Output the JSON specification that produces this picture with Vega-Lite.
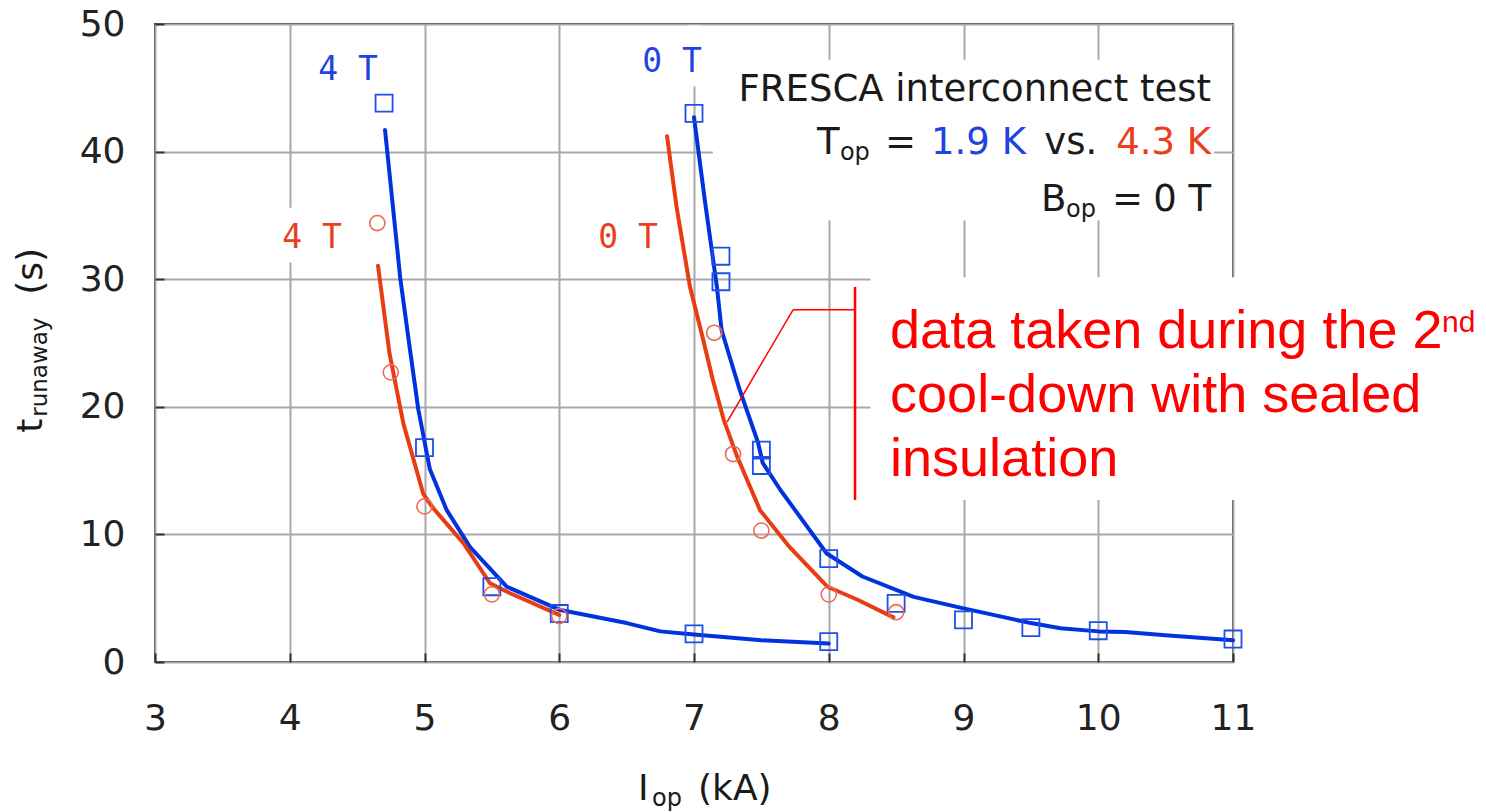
{
"$schema": "https://vega.github.io/schema/vega-lite/v6.json",
"width": 1078, "height": 638,
"autosize": {"type": "none"},
"padding": {"left": 155, "top": 24, "right": 253, "bottom": 150},
"background": "#ffffff",
"config": {
  "view": {"stroke": "#333333", "strokeWidth": 2},
  "axis": {"labelFont": "DejaVu Sans", "labelFontSize": 36, "labelColor": "#222222", "gridColor": "#a8a8a8", "gridWidth": 2, "domain": false, "tickColor": "#333333", "tickWidth": 2, "tickSize": -9, "labelFlush": false, "labelOverlap": false, "format": "d"}
},
"datasets": {
  "points": [
    {"I": 4.7, "t": 43.8, "Top": "1.9 K", "Bop": "4 T"},
    {"I": 5.0, "t": 16.8, "Top": "1.9 K", "Bop": "4 T"},
    {"I": 5.5, "t": 5.9, "Top": "1.9 K", "Bop": "4 T"},
    {"I": 6.0, "t": 3.8, "Top": "1.9 K", "Bop": "4 T"},
    {"I": 7.0, "t": 2.2, "Top": "1.9 K", "Bop": "4 T"},
    {"I": 8.0, "t": 1.6, "Top": "1.9 K", "Bop": "4 T"},
    {"I": 7.0, "t": 43.0, "Top": "1.9 K", "Bop": "0 T"},
    {"I": 7.2, "t": 31.8, "Top": "1.9 K", "Bop": "0 T"},
    {"I": 7.2, "t": 29.8, "Top": "1.9 K", "Bop": "0 T"},
    {"I": 7.5, "t": 16.6, "Top": "1.9 K", "Bop": "0 T"},
    {"I": 7.5, "t": 15.4, "Top": "1.9 K", "Bop": "0 T"},
    {"I": 8.0, "t": 8.1, "Top": "1.9 K", "Bop": "0 T"},
    {"I": 8.5, "t": 4.6, "Top": "1.9 K", "Bop": "0 T"},
    {"I": 9.0, "t": 3.3, "Top": "1.9 K", "Bop": "0 T"},
    {"I": 9.5, "t": 2.7, "Top": "1.9 K", "Bop": "0 T"},
    {"I": 10.0, "t": 2.45, "Top": "1.9 K", "Bop": "0 T"},
    {"I": 11.0, "t": 1.8, "Top": "1.9 K", "Bop": "0 T"},
    {"I": 4.65, "t": 34.4, "Top": "4.3 K", "Bop": "4 T"},
    {"I": 4.75, "t": 22.7, "Top": "4.3 K", "Bop": "4 T"},
    {"I": 5.0, "t": 12.2, "Top": "4.3 K", "Bop": "4 T"},
    {"I": 5.5, "t": 5.3, "Top": "4.3 K", "Bop": "4 T"},
    {"I": 6.0, "t": 3.6, "Top": "4.3 K", "Bop": "4 T"},
    {"I": 7.15, "t": 25.8, "Top": "4.3 K", "Bop": "0 T"},
    {"I": 7.29, "t": 16.3, "Top": "4.3 K", "Bop": "0 T"},
    {"I": 7.5, "t": 10.3, "Top": "4.3 K", "Bop": "0 T"},
    {"I": 8.0, "t": 5.3, "Top": "4.3 K", "Bop": "0 T"},
    {"I": 8.5, "t": 3.9, "Top": "4.3 K", "Bop": "0 T"}
  ],
  "fits": [
    {"I": 4.707, "t": 41.7, "Top": "1.9 K", "Bop": "4 T"},
    {"I": 4.82, "t": 30.1, "Top": "1.9 K", "Bop": "4 T"},
    {"I": 4.892, "t": 24.5, "Top": "1.9 K", "Bop": "4 T"},
    {"I": 4.954, "t": 19.8, "Top": "1.9 K", "Bop": "4 T"},
    {"I": 5.04, "t": 15.1, "Top": "1.9 K", "Bop": "4 T"},
    {"I": 5.165, "t": 11.9, "Top": "1.9 K", "Bop": "4 T"},
    {"I": 5.338, "t": 9.0, "Top": "1.9 K", "Bop": "4 T"},
    {"I": 5.61, "t": 5.9, "Top": "1.9 K", "Bop": "4 T"},
    {"I": 6.0, "t": 4.1, "Top": "1.9 K", "Bop": "4 T"},
    {"I": 6.5, "t": 3.05, "Top": "1.9 K", "Bop": "4 T"},
    {"I": 6.75, "t": 2.4, "Top": "1.9 K", "Bop": "4 T"},
    {"I": 7.0, "t": 2.15, "Top": "1.9 K", "Bop": "4 T"},
    {"I": 7.5, "t": 1.7, "Top": "1.9 K", "Bop": "4 T"},
    {"I": 8.0, "t": 1.45, "Top": "1.9 K", "Bop": "4 T"},
    {"I": 7.0, "t": 42.7, "Top": "1.9 K", "Bop": "0 T"},
    {"I": 7.08, "t": 36.2, "Top": "1.9 K", "Bop": "0 T"},
    {"I": 7.17, "t": 29.4, "Top": "1.9 K", "Bop": "0 T"},
    {"I": 7.205, "t": 26.0, "Top": "1.9 K", "Bop": "0 T"},
    {"I": 7.34, "t": 21.3, "Top": "1.9 K", "Bop": "0 T"},
    {"I": 7.475, "t": 17.2, "Top": "1.9 K", "Bop": "0 T"},
    {"I": 7.51, "t": 15.6, "Top": "1.9 K", "Bop": "0 T"},
    {"I": 7.64, "t": 13.5, "Top": "1.9 K", "Bop": "0 T"},
    {"I": 7.985, "t": 8.5, "Top": "1.9 K", "Bop": "0 T"},
    {"I": 8.25, "t": 6.7, "Top": "1.9 K", "Bop": "0 T"},
    {"I": 8.63, "t": 5.1, "Top": "1.9 K", "Bop": "0 T"},
    {"I": 9.0, "t": 4.2, "Top": "1.9 K", "Bop": "0 T"},
    {"I": 9.5, "t": 3.05, "Top": "1.9 K", "Bop": "0 T"},
    {"I": 9.72, "t": 2.65, "Top": "1.9 K", "Bop": "0 T"},
    {"I": 10.0, "t": 2.4, "Top": "1.9 K", "Bop": "0 T"},
    {"I": 10.2, "t": 2.35, "Top": "1.9 K", "Bop": "0 T"},
    {"I": 10.5, "t": 2.1, "Top": "1.9 K", "Bop": "0 T"},
    {"I": 11.0, "t": 1.7, "Top": "1.9 K", "Bop": "0 T"},
    {"I": 4.655, "t": 31.05, "Top": "4.3 K", "Bop": "4 T"},
    {"I": 4.74, "t": 24.2, "Top": "4.3 K", "Bop": "4 T"},
    {"I": 4.843, "t": 18.7, "Top": "4.3 K", "Bop": "4 T"},
    {"I": 4.99, "t": 13.2, "Top": "4.3 K", "Bop": "4 T"},
    {"I": 5.065, "t": 12.05, "Top": "4.3 K", "Bop": "4 T"},
    {"I": 5.29, "t": 9.3, "Top": "4.3 K", "Bop": "4 T"},
    {"I": 5.486, "t": 6.17, "Top": "4.3 K", "Bop": "4 T"},
    {"I": 5.635, "t": 5.39, "Top": "4.3 K", "Bop": "4 T"},
    {"I": 6.0, "t": 3.69, "Top": "4.3 K", "Bop": "4 T"},
    {"I": 6.8, "t": 41.2, "Top": "4.3 K", "Bop": "0 T"},
    {"I": 6.87, "t": 35.7, "Top": "4.3 K", "Bop": "0 T"},
    {"I": 6.97, "t": 29.4, "Top": "4.3 K", "Bop": "0 T"},
    {"I": 7.06, "t": 25.6, "Top": "4.3 K", "Bop": "0 T"},
    {"I": 7.14, "t": 22.1, "Top": "4.3 K", "Bop": "0 T"},
    {"I": 7.22, "t": 19.0, "Top": "4.3 K", "Bop": "0 T"},
    {"I": 7.32, "t": 16.1, "Top": "4.3 K", "Bop": "0 T"},
    {"I": 7.49, "t": 11.9, "Top": "4.3 K", "Bop": "0 T"},
    {"I": 7.71, "t": 9.0, "Top": "4.3 K", "Bop": "0 T"},
    {"I": 7.99, "t": 5.9, "Top": "4.3 K", "Bop": "0 T"},
    {"I": 8.21, "t": 4.9, "Top": "4.3 K", "Bop": "0 T"},
    {"I": 8.48, "t": 3.5, "Top": "4.3 K", "Bop": "0 T"}
  ]
},
"layer": [
  {"data": {"name": "fits"}, "transform": [{"filter": "datum.Top === '1.9 K'"}],
   "mark": {"type": "line", "color": "#0033dd", "strokeWidth": 4, "opacity": 0},
   "encoding": {
     "x": {"field": "I", "type": "quantitative", "scale": {"domain": [3, 11], "nice": false}, "axis": {"values": [3,4,5,6,7,8,9,10,11], "title": null, "labelPadding": 48}},
     "y": {"field": "t", "type": "quantitative", "scale": {"domain": [0, 50], "nice": false}, "axis": {"values": [0,10,20,30,40,50], "title": null, "labelPadding": 39}},
     "detail": {"field": "Bop"}}},
  {"data": {"values": [{}]}, "mark": {"type": "rect", "color": "#ffffff"},
   "encoding": {
     "x": {"datum": 7.14, "type": "quantitative", "scale": {"domain": [3, 11], "nice": false}},
     "x2": {"datum": 10.86},
     "y": {"datum": 47.2, "type": "quantitative", "scale": {"domain": [0, 50], "nice": false}},
     "y2": {"datum": 34.6}}},
  {"data": {"values": [{}]}, "mark": {"type": "rect", "color": "#ffffff"},
   "encoding": {
     "x": {"datum": 8.31, "type": "quantitative", "scale": {"domain": [3, 11], "nice": false}},
     "x2": {"datum": 12.88},
     "y": {"datum": 30.15, "type": "quantitative", "scale": {"domain": [0, 50], "nice": false}},
     "y2": {"datum": 12.7}}},
  {"data": {"values": [{}]}, "mark": {"type": "rect", "color": "#ffffff"},
   "encoding": {
     "x": {"datum": 6.96, "type": "quantitative", "scale": {"domain": [3, 11], "nice": false}},
     "x2": {"datum": 7.04},
     "y": {"datum": 49.9, "type": "quantitative", "scale": {"domain": [0, 50], "nice": false}},
     "y2": {"datum": 45.1}}},
  {"data": {"values": [{}]}, "mark": {"type": "rect", "color": "#ffffff"},
   "encoding": {
     "x": {"datum": 3.96, "type": "quantitative", "scale": {"domain": [3, 11], "nice": false}},
     "x2": {"datum": 4.04},
     "y": {"datum": 35.6, "type": "quantitative", "scale": {"domain": [0, 50], "nice": false}},
     "y2": {"datum": 31.3}}},
  {"data": {"name": "fits"}, "transform": [{"filter": "datum.Top === '1.9 K'"}],
   "mark": {"type": "line", "color": "#0033dd", "strokeWidth": 4, "strokeCap": "round", "strokeJoin": "round"},
   "encoding": {
     "x": {"field": "I", "type": "quantitative", "scale": {"domain": [3, 11], "nice": false}},
     "y": {"field": "t", "type": "quantitative", "scale": {"domain": [0, 50], "nice": false}},
     "detail": {"field": "Bop"}}},
  {"data": {"name": "fits"}, "transform": [{"filter": "datum.Top === '4.3 K'"}],
   "mark": {"type": "line", "color": "#e83c12", "strokeWidth": 4, "strokeCap": "round", "strokeJoin": "round"},
   "encoding": {
     "x": {"field": "I", "type": "quantitative", "scale": {"domain": [3, 11], "nice": false}},
     "y": {"field": "t", "type": "quantitative", "scale": {"domain": [0, 50], "nice": false}},
     "detail": {"field": "Bop"}}},
  {"data": {"name": "points"}, "transform": [{"filter": "datum.Top === '1.9 K'"}],
   "mark": {"type": "point", "shape": "square", "filled": false, "stroke": "#1e4fe6", "strokeWidth": 1.8, "size": 290, "opacity": 1},
   "encoding": {
     "x": {"field": "I", "type": "quantitative", "scale": {"domain": [3, 11], "nice": false}},
     "y": {"field": "t", "type": "quantitative", "scale": {"domain": [0, 50], "nice": false}}}},
  {"data": {"name": "points"}, "transform": [{"filter": "datum.Top === '4.3 K'"}],
   "mark": {"type": "point", "shape": "circle", "filled": false, "stroke": "#ee6a55", "strokeWidth": 1.6, "size": 230, "opacity": 1},
   "encoding": {
     "x": {"field": "I", "type": "quantitative", "scale": {"domain": [3, 11], "nice": false}},
     "y": {"field": "t", "type": "quantitative", "scale": {"domain": [0, 50], "nice": false}}}},
  {"data": {"values": [{}]}, "mark": {"type": "rule", "color": "#ff0000", "strokeWidth": 1.5},
   "encoding": {
     "x": {"datum": 8.195, "type": "quantitative", "scale": {"domain": [3, 11], "nice": false}},
     "x2": {"datum": 7.735},
     "y": {"datum": 27.6, "type": "quantitative", "scale": {"domain": [0, 50], "nice": false}},
     "y2": {"datum": 27.6}}},
  {"data": {"values": [{}]}, "mark": {"type": "rule", "color": "#ff0000", "strokeWidth": 1.5},
   "encoding": {
     "x": {"datum": 7.735, "type": "quantitative", "scale": {"domain": [3, 11], "nice": false}},
     "x2": {"datum": 7.245},
     "y": {"datum": 27.6, "type": "quantitative", "scale": {"domain": [0, 50], "nice": false}},
     "y2": {"datum": 18.8}}},
  {"data": {"values": [{}]}, "mark": {"type": "rule", "color": "#ff0000", "strokeWidth": 2.5},
   "encoding": {
     "x": {"datum": 8.195, "type": "quantitative", "scale": {"domain": [3, 11], "nice": false}},
     "y": {"datum": 29.4, "type": "quantitative", "scale": {"domain": [0, 50], "nice": false}},
     "y2": {"datum": 12.7}}},
  {"data": {"values": [{}]}, "mark": {"type": "text", "text": "data taken during the 2", "align": "left", "baseline": "alphabetic", "font": "Liberation Sans", "fontSize": 54, "color": "#ff0000"},
   "encoding": {
     "x": {"datum": 8.455, "type": "quantitative", "scale": {"domain": [3, 11], "nice": false}},
     "y": {"datum": 24.63, "type": "quantitative", "scale": {"domain": [0, 50], "nice": false}}}},
  {"data": {"values": [{}]}, "mark": {"type": "text", "text": "nd", "align": "left", "baseline": "alphabetic", "font": "Liberation Sans", "fontSize": 30, "color": "#ff0000"},
   "encoding": {
     "x": {"datum": 12.551, "type": "quantitative", "scale": {"domain": [3, 11], "nice": false}},
     "y": {"datum": 25.88, "type": "quantitative", "scale": {"domain": [0, 50], "nice": false}}}},
  {"data": {"values": [{}]}, "mark": {"type": "text", "text": "cool-down with sealed", "align": "left", "baseline": "alphabetic", "font": "Liberation Sans", "fontSize": 54, "color": "#ff0000"},
   "encoding": {
     "x": {"datum": 8.455, "type": "quantitative", "scale": {"domain": [3, 11], "nice": false}},
     "y": {"datum": 19.61, "type": "quantitative", "scale": {"domain": [0, 50], "nice": false}}}},
  {"data": {"values": [{}]}, "mark": {"type": "text", "text": "insulation", "align": "left", "baseline": "alphabetic", "font": "Liberation Sans", "fontSize": 54, "color": "#ff0000"},
   "encoding": {
     "x": {"datum": 8.455, "type": "quantitative", "scale": {"domain": [3, 11], "nice": false}},
     "y": {"datum": 14.59, "type": "quantitative", "scale": {"domain": [0, 50], "nice": false}}}},
  {"data": {"values": [{}]}, "mark": {"type": "text", "text": "FRESCA interconnect test", "align": "right", "baseline": "alphabetic", "font": "DejaVu Sans", "fontSize": 37, "color": "#1a1a1a"},
   "encoding": {
     "x": {"datum": 10.837, "type": "quantitative", "scale": {"domain": [3, 11], "nice": false}},
     "y": {"datum": 43.95, "type": "quantitative", "scale": {"domain": [0, 50], "nice": false}}}},
  {"data": {"values": [{}]}, "mark": {"type": "text", "text": "T", "align": "left", "baseline": "alphabetic", "font": "DejaVu Sans", "fontSize": 37, "color": "#1a1a1a"},
   "encoding": {
     "x": {"datum": 7.913, "type": "quantitative", "scale": {"domain": [3, 11], "nice": false}},
     "y": {"datum": 39.84, "type": "quantitative", "scale": {"domain": [0, 50], "nice": false}}}},
  {"data": {"values": [{}]}, "mark": {"type": "text", "text": "op", "align": "left", "baseline": "alphabetic", "font": "DejaVu Sans", "fontSize": 24, "color": "#1a1a1a"},
   "encoding": {
     "x": {"datum": 8.083, "type": "quantitative", "scale": {"domain": [3, 11], "nice": false}},
     "y": {"datum": 39.37, "type": "quantitative", "scale": {"domain": [0, 50], "nice": false}}}},
  {"data": {"values": [{}]}, "mark": {"type": "text", "text": "=", "align": "left", "baseline": "alphabetic", "font": "DejaVu Sans", "fontSize": 37, "color": "#1a1a1a"},
   "encoding": {
     "x": {"datum": 8.417, "type": "quantitative", "scale": {"domain": [3, 11], "nice": false}},
     "y": {"datum": 39.84, "type": "quantitative", "scale": {"domain": [0, 50], "nice": false}}}},
  {"data": {"values": [{}]}, "mark": {"type": "text", "text": "1.9 K", "align": "left", "baseline": "alphabetic", "font": "DejaVu Sans", "fontSize": 37, "color": "#1f44e0"},
   "encoding": {
     "x": {"datum": 8.759, "type": "quantitative", "scale": {"domain": [3, 11], "nice": false}},
     "y": {"datum": 39.84, "type": "quantitative", "scale": {"domain": [0, 50], "nice": false}}}},
  {"data": {"values": [{}]}, "mark": {"type": "text", "text": "vs.", "align": "left", "baseline": "alphabetic", "font": "DejaVu Sans", "fontSize": 37, "color": "#1a1a1a"},
   "encoding": {
     "x": {"datum": 9.6, "type": "quantitative", "scale": {"domain": [3, 11], "nice": false}},
     "y": {"datum": 39.84, "type": "quantitative", "scale": {"domain": [0, 50], "nice": false}}}},
  {"data": {"values": [{}]}, "mark": {"type": "text", "text": "4.3 K", "align": "right", "baseline": "alphabetic", "font": "DejaVu Sans", "fontSize": 37, "color": "#e8401c"},
   "encoding": {
     "x": {"datum": 10.837, "type": "quantitative", "scale": {"domain": [3, 11], "nice": false}},
     "y": {"datum": 39.84, "type": "quantitative", "scale": {"domain": [0, 50], "nice": false}}}},
  {"data": {"values": [{}]}, "mark": {"type": "text", "text": "B", "align": "left", "baseline": "alphabetic", "font": "DejaVu Sans", "fontSize": 37, "color": "#1a1a1a"},
   "encoding": {
     "x": {"datum": 9.575, "type": "quantitative", "scale": {"domain": [3, 11], "nice": false}},
     "y": {"datum": 35.37, "type": "quantitative", "scale": {"domain": [0, 50], "nice": false}}}},
  {"data": {"values": [{}]}, "mark": {"type": "text", "text": "op", "align": "left", "baseline": "alphabetic", "font": "DejaVu Sans", "fontSize": 24, "color": "#1a1a1a"},
   "encoding": {
     "x": {"datum": 9.761, "type": "quantitative", "scale": {"domain": [3, 11], "nice": false}},
     "y": {"datum": 34.9, "type": "quantitative", "scale": {"domain": [0, 50], "nice": false}}}},
  {"data": {"values": [{}]}, "mark": {"type": "text", "text": "=", "align": "left", "baseline": "alphabetic", "font": "DejaVu Sans", "fontSize": 37, "color": "#1a1a1a"},
   "encoding": {
     "x": {"datum": 10.102, "type": "quantitative", "scale": {"domain": [3, 11], "nice": false}},
     "y": {"datum": 35.37, "type": "quantitative", "scale": {"domain": [0, 50], "nice": false}}}},
  {"data": {"values": [{}]}, "mark": {"type": "text", "text": "0 T", "align": "right", "baseline": "alphabetic", "font": "DejaVu Sans", "fontSize": 37, "color": "#1a1a1a"},
   "encoding": {
     "x": {"datum": 10.837, "type": "quantitative", "scale": {"domain": [3, 11], "nice": false}},
     "y": {"datum": 35.37, "type": "quantitative", "scale": {"domain": [0, 50], "nice": false}}}},
  {"data": {"values": [{}]}, "mark": {"type": "text", "text": "4 T", "align": "center", "baseline": "alphabetic", "font": "DejaVu Sans Mono", "fontSize": 33, "color": "#1f44e0"},
   "encoding": {
     "x": {"datum": 4.432, "type": "quantitative", "scale": {"domain": [3, 11], "nice": false}},
     "y": {"datum": 45.65, "type": "quantitative", "scale": {"domain": [0, 50], "nice": false}}}},
  {"data": {"values": [{}]}, "mark": {"type": "text", "text": "0 T", "align": "center", "baseline": "alphabetic", "font": "DejaVu Sans Mono", "fontSize": 33, "color": "#1f44e0"},
   "encoding": {
     "x": {"datum": 6.837, "type": "quantitative", "scale": {"domain": [3, 11], "nice": false}},
     "y": {"datum": 46.27, "type": "quantitative", "scale": {"domain": [0, 50], "nice": false}}}},
  {"data": {"values": [{}]}, "mark": {"type": "text", "text": "4 T", "align": "center", "baseline": "alphabetic", "font": "DejaVu Sans Mono", "fontSize": 33, "color": "#e8401c"},
   "encoding": {
     "x": {"datum": 4.165, "type": "quantitative", "scale": {"domain": [3, 11], "nice": false}},
     "y": {"datum": 32.47, "type": "quantitative", "scale": {"domain": [0, 50], "nice": false}}}},
  {"data": {"values": [{}]}, "mark": {"type": "text", "text": "0 T", "align": "center", "baseline": "alphabetic", "font": "DejaVu Sans Mono", "fontSize": 33, "color": "#e8401c"},
   "encoding": {
     "x": {"datum": 6.51, "type": "quantitative", "scale": {"domain": [3, 11], "nice": false}},
     "y": {"datum": 32.47, "type": "quantitative", "scale": {"domain": [0, 50], "nice": false}}}},
  {"data": {"values": [{}]}, "mark": {"type": "text", "text": "I", "align": "left", "baseline": "alphabetic", "font": "DejaVu Sans", "fontSize": 36, "color": "#1a1a1a"},
   "encoding": {
     "x": {"datum": 6.584, "type": "quantitative", "scale": {"domain": [3, 11], "nice": false}},
     "y": {"datum": -10.82, "type": "quantitative", "scale": {"domain": [0, 50], "nice": false}}}},
  {"data": {"values": [{}]}, "mark": {"type": "text", "text": "op", "align": "left", "baseline": "alphabetic", "font": "DejaVu Sans", "fontSize": 24, "color": "#1a1a1a"},
   "encoding": {
     "x": {"datum": 6.688, "type": "quantitative", "scale": {"domain": [3, 11], "nice": false}},
     "y": {"datum": -11.29, "type": "quantitative", "scale": {"domain": [0, 50], "nice": false}}}},
  {"data": {"values": [{}]}, "mark": {"type": "text", "text": "(kA)", "align": "left", "baseline": "alphabetic", "font": "DejaVu Sans", "fontSize": 36, "color": "#1a1a1a"},
   "encoding": {
     "x": {"datum": 7.03, "type": "quantitative", "scale": {"domain": [3, 11], "nice": false}},
     "y": {"datum": -10.82, "type": "quantitative", "scale": {"domain": [0, 50], "nice": false}}}},
  {"data": {"values": [{}]}, "mark": {"type": "text", "text": "t", "angle": 270, "align": "left", "baseline": "alphabetic", "font": "DejaVu Sans", "fontSize": 36, "color": "#1a1a1a"},
   "encoding": {
     "x": {"datum": 2.161, "type": "quantitative", "scale": {"domain": [3, 11], "nice": false}},
     "y": {"datum": 17.96, "type": "quantitative", "scale": {"domain": [0, 50], "nice": false}}}},
  {"data": {"values": [{}]}, "mark": {"type": "text", "text": "runaway", "angle": 270, "align": "left", "baseline": "alphabetic", "font": "DejaVu Sans", "fontSize": 23, "color": "#1a1a1a"},
   "encoding": {
     "x": {"datum": 2.1985, "type": "quantitative", "scale": {"domain": [3, 11], "nice": false}},
     "y": {"datum": 19.22, "type": "quantitative", "scale": {"domain": [0, 50], "nice": false}}}},
  {"data": {"values": [{}]}, "mark": {"type": "text", "text": "(s)", "angle": 270, "align": "left", "baseline": "alphabetic", "font": "DejaVu Sans", "fontSize": 36, "color": "#1a1a1a"},
   "encoding": {
     "x": {"datum": 2.161, "type": "quantitative", "scale": {"domain": [3, 11], "nice": false}},
     "y": {"datum": 28.78, "type": "quantitative", "scale": {"domain": [0, 50], "nice": false}}}}
]
}
